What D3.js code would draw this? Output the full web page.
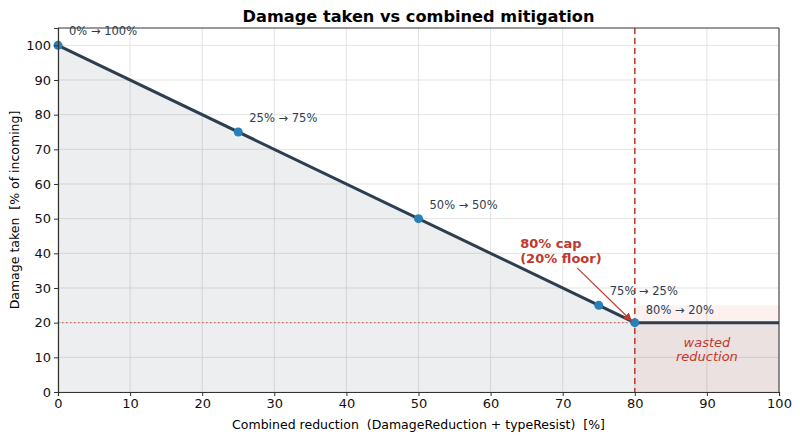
<!DOCTYPE html>
<html>
<head>
<meta charset="utf-8">
<script src="https://cdn.jsdelivr.net/npm/d3@7"></script>
<style>
  body { margin: 0; background: #fff; }
  text { font-family: "DejaVu Sans", sans-serif; white-space: pre; }
</style>
</head>
<body>
<svg id="chart" width="800" height="440"></svg>
<script>
// curve: damage taken vs combined reduction (capped at 80%)
const curveX = [0, 80, 100];
const curveY = [100, 20, 20];
// highlighted points
const pointsX = [0, 25, 50, 75, 80];
const pointsY = [100, 75, 50, 25, 20];
const pointLabels = ["0% → 100%", "25% → 75%", "50% → 50%", "75% → 25%", "80% → 20%"];
const xTicks = [0, 10, 20, 30, 40, 50, 60, 70, 80, 90, 100];
const yTicks = [0, 10, 20, 30, 40, 50, 60, 70, 80, 90, 100];
const capX = 80, floorY = 20, wastedTop = 25;

const W = 800, H = 440;
const margin = { top: 28, right: 21, bottom: 48, left: 58 };
const iw = W - margin.left - margin.right;
const ih = H - margin.top - margin.bottom;

const svg = d3.select("#chart");
const g = svg.append("g").attr("transform", `translate(${margin.left},${margin.top})`);

const x = d3.scaleLinear().domain([0, 100]).range([0, iw]);
const y = d3.scaleLinear().domain([0, 105]).range([ih, 0]);

// grid
g.append("g").selectAll("line").data(xTicks).enter().append("line")
  .attr("x1", d => x(d)).attr("x2", d => x(d)).attr("y1", 0).attr("y2", ih)
  .attr("stroke", "#e3e3e3").attr("stroke-width", 1);
g.append("g").selectAll("line").data(yTicks).enter().append("line")
  .attr("y1", d => y(d)).attr("y2", d => y(d)).attr("x1", 0).attr("x2", iw)
  .attr("stroke", "#e3e3e3").attr("stroke-width", 1);

const pts = curveX.map((d, i) => [d, curveY[i]]);

// area under curve
const area = d3.area().x(d => x(d[0])).y0(y(0)).y1(d => y(d[1]));
g.append("path").datum(pts).attr("d", area)
  .attr("fill", "#2c3e50").attr("fill-opacity", 0.09);

// wasted zone
g.append("rect")
  .attr("x", x(capX)).attr("y", y(wastedTop))
  .attr("width", x(100) - x(capX)).attr("height", y(0) - y(wastedTop))
  .attr("fill", "#e74c3c").attr("fill-opacity", 0.08);

// floor line
g.append("line")
  .attr("x1", x(0)).attr("x2", x(capX)).attr("y1", y(floorY)).attr("y2", y(floorY))
  .attr("stroke", "#c0392b").attr("stroke-width", 1).attr("stroke-dasharray", "1.5,2.5")
  .attr("opacity", 0.8);

// cap line
g.append("line")
  .attr("x1", x(capX)).attr("x2", x(capX)).attr("y1", 0).attr("y2", ih)
  .attr("stroke", "#c0392b").attr("stroke-width", 1.5).attr("stroke-dasharray", "6,4");

// main curve
const line = d3.line().x(d => x(d[0])).y(d => y(d[1]));
g.append("path").datum(pts).attr("d", line)
  .attr("fill", "none").attr("stroke", "#2c3e50").attr("stroke-width", 3);

// points
g.append("g").selectAll("circle").data(pointsX).enter().append("circle")
  .attr("cx", d => x(d)).attr("cy", (d, i) => y(pointsY[i])).attr("r", 4.5)
  .attr("fill", "#2980b9");

// point labels
g.append("g").selectAll("text").data(pointLabels).enter().append("text")
  .attr("x", (d, i) => x(pointsX[i]) + 11)
  .attr("y", (d, i) => y(pointsY[i]) - (i === 4 ? 9 : 10))
  .attr("font-size", 11.5).attr("fill", "#2c3e50")
  .text(d => d);

// cap annotation
svg.append("defs").append("marker")
  .attr("id", "arr").attr("viewBox", "0 0 10 10").attr("refX", 10).attr("refY", 5)
  .attr("markerWidth", 7).attr("markerHeight", 7).attr("orient", "auto")
  .append("path").attr("d", "M0,0 L10,5 L0,10 Z").attr("fill", "#c0392b");
g.append("line")
  .attr("x1", x(72)).attr("y1", y(35.8))
  .attr("x2", x(79.6)).attr("y2", y(20.4))
  .attr("stroke", "#c0392b").attr("stroke-width", 1.2).attr("marker-end", "url(#arr)");
const capLbl = g.append("text").attr("x", x(64.1)).attr("y", y(41.6))
  .attr("font-size", 13).attr("font-weight", "bold").attr("fill", "#c0392b");
capLbl.append("tspan").attr("x", x(64.1)).text("80% cap");
capLbl.append("tspan").attr("x", x(64.1)).attr("dy", 15).text("(20% floor)");

const wLbl = g.append("text").attr("text-anchor", "middle")
  .attr("font-size", 13).attr("font-style", "italic").attr("fill", "#c0392b");
wLbl.append("tspan").attr("x", x(90)).attr("y", y(12.9)).text("wasted");
wLbl.append("tspan").attr("x", x(90)).attr("dy", 14).text("reduction");

// axes
const xAxis = g.append("g").attr("transform", `translate(0,${ih})`)
  .call(d3.axisBottom(x).tickValues(xTicks).tickSize(4).tickPadding(3));
const yAxis = g.append("g")
  .call(d3.axisLeft(y).tickValues(yTicks).tickSize(4).tickPadding(3));
[xAxis, yAxis].forEach(a => {
  a.selectAll("text").attr("font-size", 13).attr("fill", "#111").style("font-family", "DejaVu Sans, sans-serif");
  a.selectAll("line").attr("stroke", "#333");
  a.select(".domain").attr("stroke", "#333").attr("stroke-width", 1.2);
});

// frame top/right
g.append("line").attr("x1", 0).attr("x2", iw).attr("y1", 0).attr("y2", 0).attr("stroke", "#333");
g.append("line").attr("x1", iw).attr("x2", iw).attr("y1", 0).attr("y2", ih).attr("stroke", "#333");

// titles
svg.append("text").attr("x", margin.left + iw / 2).attr("y", 22)
  .attr("text-anchor", "middle").attr("font-size", 16.2).attr("font-weight", "bold")
  .text("Damage taken vs combined mitigation");
svg.append("text").attr("x", margin.left + iw / 2).attr("y", 429)
  .attr("text-anchor", "middle").attr("font-size", 12.5)
  .text("Combined reduction  (DamageReduction + typeResist)  [%]");
svg.append("text").attr("transform", `translate(19,${margin.top + ih / 2}) rotate(-90)`)
  .attr("text-anchor", "middle").attr("font-size", 12.5)
  .text("Damage taken  [% of incoming]");
</script>
</body>
</html>
